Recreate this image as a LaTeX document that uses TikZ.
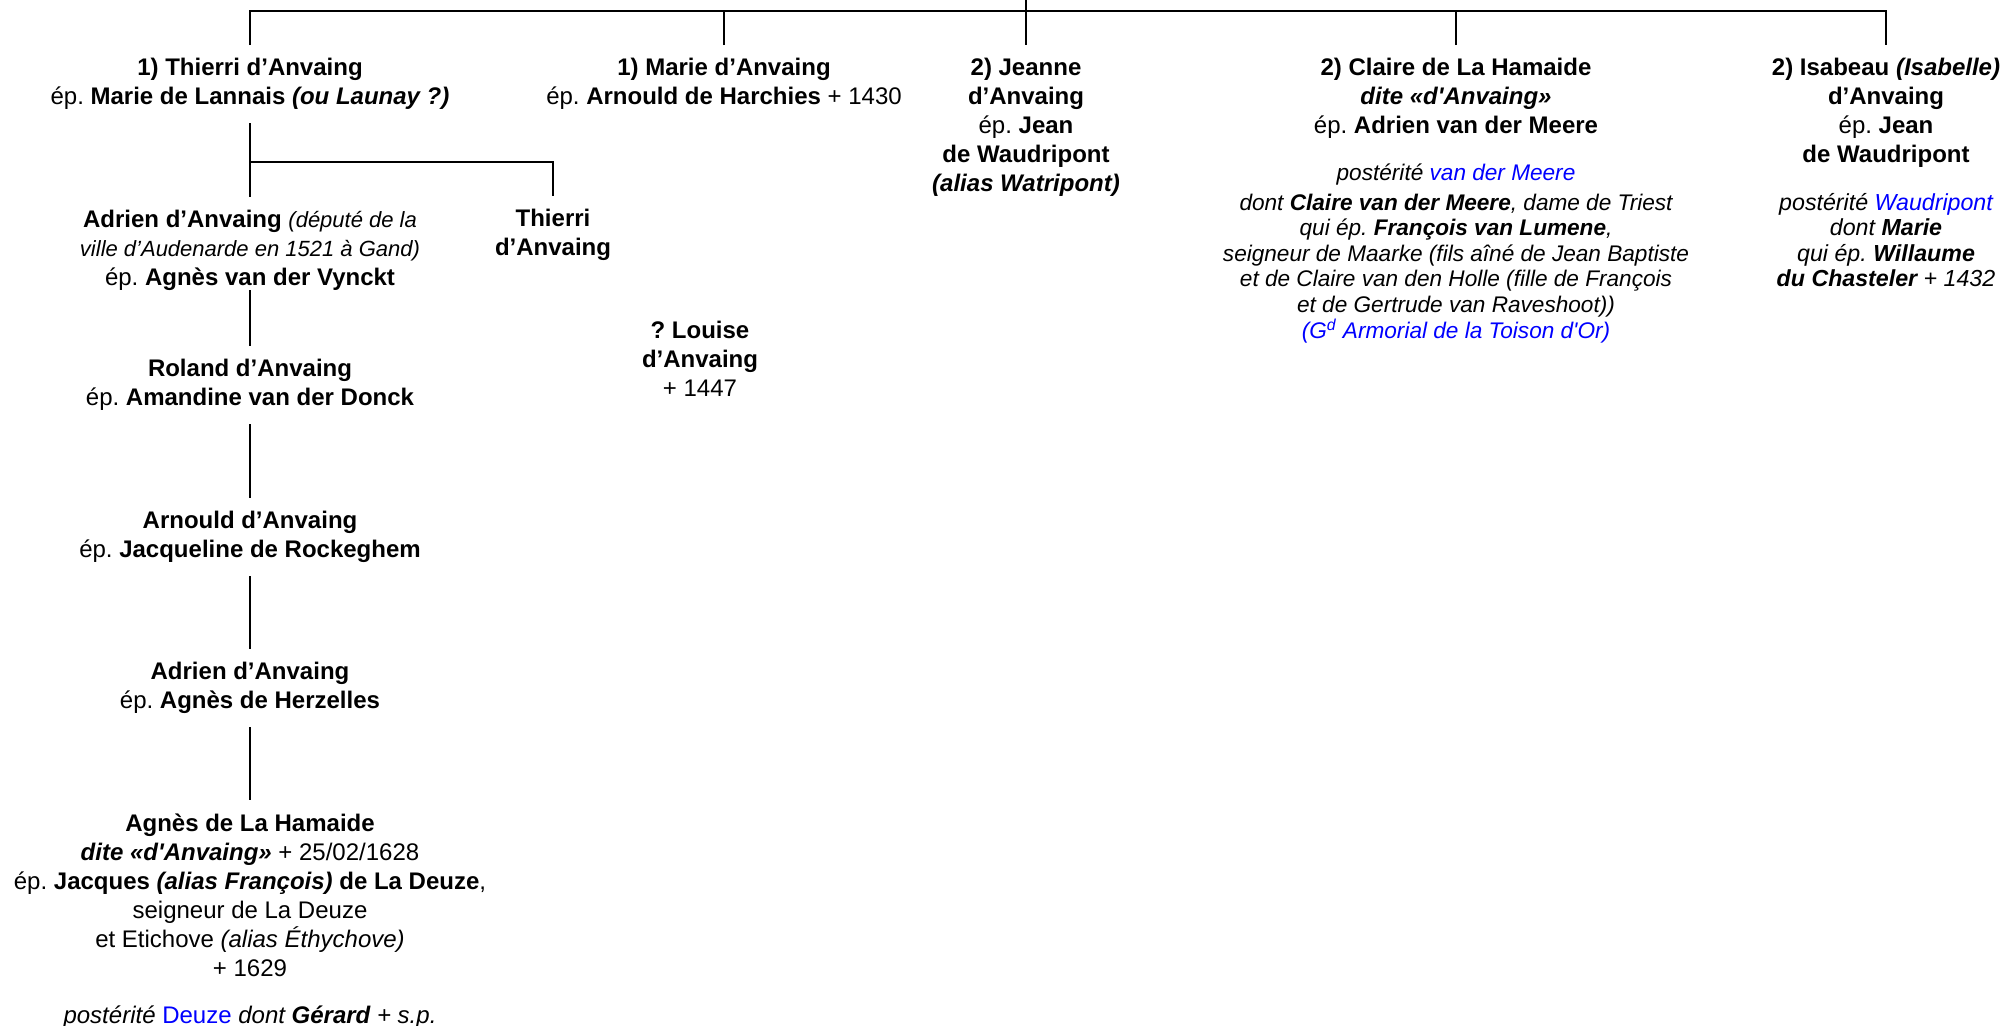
\documentclass[tikz,border=0pt]{standalone}
\usepackage{fontspec}
\setmainfont{Liberation Sans}[Ligatures=TeXOff]
\definecolor{lienbleu}{RGB}{0,0,255}
\newcommand{\remarque}[1]{{\fontsize{11}{14.5}\selectfont\itshape #1}}
\frenchspacing

\begin{document}
\begin{tikzpicture}[x=0.5pt, y=-0.5pt, font=\fontsize{12}{14.5}\selectfont]
     \tikzstyle{person}=[align=center, inner xsep=0pt, inner ysep=6.5pt, anchor=north]
     \tikzstyle{posterity}=[align=center, inner sep=0pt, anchor=north, font=\fontsize{11.3}{12.8}\selectfont\itshape]
     \tikzstyle{link}=[draw, line width=1.4pt]
     \useasboundingbox (0,0) rectangle (2005,1025);
     \coordinate (root) at (1026,0);
     \coordinate (bar) at (1026,11);
     \coordinate (fork) at (250,162);
     \node[person] (thierri) at (250,45) {\textbf{1) Thierri d’Anvaing}\\
       ép. \textbf{Marie de Lannais \textit{(ou Launay ?)}}};
     \node[person] (marie) at (724,45) {\textbf{1) Marie d’Anvaing}\\
       ép. \textbf{Arnould de Harchies} + 1430};
     \node[person] (jeanne) at (1026,45) {\textbf{2) Jeanne}\\ \textbf{d’Anvaing}\\
       ép. \textbf{Jean}\\ \textbf{de Waudripont}\\ \textbf{\textit{(alias Watripont)}}};
     \node[person] (claire) at (1456,45) {\textbf{2) Claire de La Hamaide}\\
       \textbf{\textit{dite «d'Anvaing»}}\\ ép. \textbf{Adrien van der Meere}};
     \node[posterity] (claireDesc) at (1456,163) {postérité \textcolor{lienbleu}{van der Meere}\\[2.2pt]
       dont \textbf{Claire van der Meere}, dame de Triest\\
       qui ép. \textbf{François van Lumene},\\
       seigneur de Maarke (fils aîné de Jean Baptiste\\
       et de Claire van den Holle (fille de François\\
       et de Gertrude van Raveshoot))\\
       \textcolor{lienbleu}{(G\textsuperscript{d} Armorial de la Toison d'Or)}};
     \node[person] (isabeau) at (1886,45) {\textbf{2) Isabeau \textit{(Isabelle)}}\\
       \textbf{d’Anvaing}\\ ép. \textbf{Jean}\\ \textbf{de Waudripont}};
     \node[posterity, font=\fontsize{11.6}{12.7}\selectfont\itshape] (isabeauDesc) at (1886,193)
       {postérité \textcolor{lienbleu}{Waudripont}\\ dont \textbf{Marie}\\
       qui ép. \textbf{Willaume}\\ \textbf{du Chasteler} + 1432};
     \node[person] (louise) at (700,308) {\textbf{? Louise}\\ \textbf{d’Anvaing}\\ + 1447};
     \node[person] (adrien) at (250,197) {\textbf{Adrien d’Anvaing} \remarque{(député de la}\\
       \remarque{ville d’Audenarde en 1521 à Gand)}\\ ép. \textbf{Agnès van der Vynckt}};
     \node[person] (thierriB) at (553,196) {\textbf{Thierri}\\ \textbf{d’Anvaing}};
     \node[person] (roland) at (250,346) {\textbf{Roland d’Anvaing}\\
       ép. \textbf{Amandine van der Donck}};
     \node[person] (arnould) at (250,498) {\textbf{Arnould d’Anvaing}\\
       ép. \textbf{Jacqueline de Rockeghem}};
     \node[person] (adrienB) at (250,649) {\textbf{Adrien d’Anvaing}\\
       ép. \textbf{Agnès de Herzelles}};
     \node[person] (agnes) at (250,800) {\textbf{Agnès de La Hamaide}\\
       \textbf{\textit{dite «d'Anvaing»}} + 25/02/1628\\
       ép. \textbf{Jacques \textit{(alias François)} de La Deuze},\\
       seigneur de La Deuze\\
       et Etichove \textit{(alias Éthychove)}\\
       + 1629\\[9pt]
       \textit{postérité} \textcolor{lienbleu}{Deuze} \textit{dont \textbf{Gérard} + s.p.}};
     \draw[link] (thierri.north) |- (bar) -| (isabeau.north);
     \draw[link] (root) -- (jeanne.north);
     \draw[link] (marie.north) -- (marie.north |- bar);
     \draw[link] (claire.north) -- (claire.north |- bar);
     \draw[link] (thierri.south) -- (fork) -| (thierriB.north);
     \draw[link] (fork) -- (adrien.north);
     \draw[link] ([yshift=7pt]adrien.south) -- (roland.north);
     \draw[link] (roland.south) -- (arnould.north);
     \draw[link] (arnould.south) -- (adrienB.north);
     \draw[link] (adrienB.south) -- (agnes.north);
\end{tikzpicture}
\end{document}
